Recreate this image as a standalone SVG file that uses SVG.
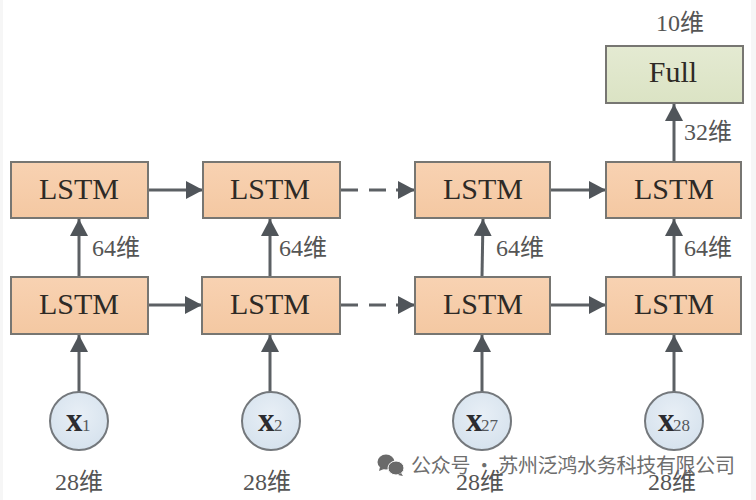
<svg xmlns="http://www.w3.org/2000/svg" width="756" height="500" viewBox="0 0 756 500">
<defs>
<linearGradient id="o" x1="0" y1="0" x2="0" y2="1"><stop offset="0" stop-color="#f8d2b2"/><stop offset="1" stop-color="#f4c8a2"/></linearGradient>
<linearGradient id="g" x1="0" y1="0" x2="0" y2="1"><stop offset="0" stop-color="#e4ead2"/><stop offset="1" stop-color="#dbe3c4"/></linearGradient>
<radialGradient id="c" cx="0.5" cy="0.4" r="0.7"><stop offset="0" stop-color="#e8eff6"/><stop offset="1" stop-color="#d3e0ec"/></radialGradient>
<marker id="a" markerUnits="userSpaceOnUse" markerWidth="18" markerHeight="18" refX="17" refY="9" orient="auto"><path d="M0 0L17 9L0 18Z" fill="#50555a"/></marker>
</defs>
<style>
.b{stroke:#777672;stroke-width:2}
.o{fill:url(#o)}
.t{font-family:"Liberation Serif","Noto Sans CJK SC",serif;font-size:30px;fill:#2e2a26;text-anchor:middle}
.l{font-family:"Liberation Serif","Noto Sans CJK SC",serif;font-size:24px;fill:#555}
.n{fill:url(#c);stroke:#74787c;stroke-width:2}
.x{font-family:"Liberation Serif",serif;font-size:33px;font-weight:bold;fill:#2c2c30}
.s{font-family:"Liberation Serif",serif;font-size:17px;fill:#55585c}
.k{stroke:#5c6064;stroke-width:3;fill:none}
.w{font-family:"Noto Sans CJK SC","Liberation Sans",sans-serif;font-size:20px;fill:#6e6e6e}
</style>
<rect width="756" height="500" fill="#fff"/>
<rect width="3" height="500" fill="#f6f6f6"/>
<rect x="751" width="5" height="500" fill="#f6f6f6"/>
<g id="connectors">
<path class="k" marker-end="url(#a)" d="M148 190H203"/>
<path class="k" marker-end="url(#a)" d="M148 305H202"/>
<path class="k" d="M340 190H358M369 190H386"/>
<path class="k" marker-end="url(#a)" d="M396 190H415"/>
<path class="k" d="M340 305H358M369 305H386"/>
<path class="k" marker-end="url(#a)" d="M396 305H415"/>
<path class="k" marker-end="url(#a)" d="M550 190H606"/>
<path class="k" marker-end="url(#a)" d="M550 305H606"/>
<path class="k" marker-end="url(#a)" d="M79 277V219"/>
<path class="k" marker-end="url(#a)" d="M270 277V219"/>
<path class="k" marker-end="url(#a)" d="M482 277L483 219"/>
<path class="k" marker-end="url(#a)" d="M674 277V219"/>
<path class="k" marker-end="url(#a)" d="M674 162V104"/>
<path class="k" marker-end="url(#a)" d="M79 392V335"/>
<path class="k" marker-end="url(#a)" d="M270 392V335"/>
<path class="k" marker-end="url(#a)" d="M482 392V335"/>
<path class="k" marker-end="url(#a)" d="M674 392V335"/>
</g>
<g id="lstm-t1"><rect class="b o" x="11" y="162" width="137" height="56"/><text class="t" x="79" y="199">LSTM</text></g>
<g id="lstm-t2"><rect class="b o" x="203" y="162" width="137" height="56"/><text class="t" x="270" y="199">LSTM</text></g>
<g id="lstm-t3"><rect class="b o" x="415" y="162" width="135" height="56"/><text class="t" x="483" y="199">LSTM</text></g>
<g id="lstm-t4"><rect class="b o" x="606" y="162" width="135" height="56"/><text class="t" x="674" y="199">LSTM</text></g>
<g id="lstm-b1"><rect class="b o" x="11" y="277" width="137" height="57"/><text class="t" x="79" y="314">LSTM</text></g>
<g id="lstm-b2"><rect class="b o" x="202" y="277" width="138" height="57"/><text class="t" x="270" y="314">LSTM</text></g>
<g id="lstm-b3"><rect class="b o" x="415" y="277" width="135" height="57"/><text class="t" x="483" y="314">LSTM</text></g>
<g id="lstm-b4"><rect class="b o" x="606" y="277" width="135" height="57"/><text class="t" x="674" y="314">LSTM</text></g>
<g id="full"><rect class="b" fill="url(#g)" x="606" y="46" width="137" height="57"/><text class="t" x="673" y="82">Full</text></g>
<g id="x1"><circle class="n" cx="79" cy="421" r="29"/><text class="x" x="66" y="431">x</text><text class="s" x="82" y="431">1</text></g>
<g id="x2"><circle class="n" cx="271" cy="421" r="29"/><text class="x" x="258" y="431">x</text><text class="s" x="274" y="431">2</text></g>
<g id="x27"><circle class="n" cx="482" cy="421" r="29"/><text class="x" x="466" y="431">x</text><text class="s" x="481" y="431">27</text></g>
<g id="x28"><circle class="n" cx="674" cy="421" r="29"/><text class="x" x="658" y="431">x</text><text class="s" x="673" y="431">28</text></g>
<g id="labels">
<text class="l" x="92" y="256">64维</text>
<text class="l" x="279" y="256">64维</text>
<text class="l" x="496" y="256">64维</text>
<text class="l" x="684" y="256">64维</text>
<text class="l" x="684" y="140">32维</text>
<text class="l" x="656" y="31">10维</text>
<text class="l" x="55" y="490">28维</text>
<text class="l" x="243" y="490">28维</text>
<text class="l" x="456" y="490">28维</text>
<text class="l" x="648" y="490">28维</text>
</g>
<g id="watermark">
<ellipse cx="386" cy="462" rx="8.500" ry="7.500" fill="#6a6a6a"/>
<path d="M380 467l-1 4 5-2z" fill="#6a6a6a"/>
<ellipse cx="396" cy="468" rx="8" ry="7" fill="#6a6a6a" stroke="#fff" stroke-width="1"/>
<path d="M401 473l2 3-5-1z" fill="#6a6a6a"/>
<text class="w" x="411" y="473" textLength="324">公众号 · 苏州泛鸿水务科技有限公司</text>
</g>
</svg>
